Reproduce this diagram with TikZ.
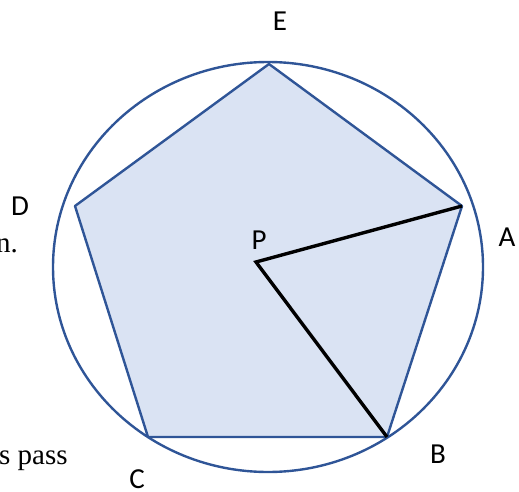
\documentclass[tikz,border=0pt]{standalone}
\usepackage{fontspec}
\setmainfont{Liberation Serif}
\newfontfamily\lblfont{Carlito}
\definecolor{edgeblue}{HTML}{2F5597}
\definecolor{fillblue}{HTML}{DAE3F3}
\begin{document}
\begin{tikzpicture}[x=1pt,y=-1pt,
  lbl/.style={font=\lblfont\fontsize{29}{34}\selectfont, inner sep=0pt},
  stray/.style={font=\fontsize{29}{34}\selectfont, inner sep=0pt},
  radius line/.style={line width=3.4pt, black}]
\useasboundingbox (0,0) rectangle (519,492);
\coordinate (O) at (268,267);
\coordinate (E) at (269,64);
\coordinate (A) at (462,206);
\coordinate (B) at (387,437);
\coordinate (C) at (148,437);
\coordinate (D) at (75,206);
\coordinate (P) at (256,262);
\draw[edgeblue, line width=2.4pt] (O) ellipse [x radius=215, y radius=205];
\draw[edgeblue, line width=2.4pt, fill=fillblue, line join=round] (E) -- (A) -- (B) -- (C) -- (D) -- cycle;
\draw[radius line, line join=miter] (A) -- (P) -- (B);
\node[lbl] (lE) at (280,21) {E};
\node[lbl] (lD) at (20,206) {D};
\node[lbl] (lA) at (507,237) {A};
\node[lbl] (lP) at (259,240) {P};
\node[lbl] (lB) at (438,454) {B};
\node[lbl] (lC) at (137,479) {C};
\node[stray, anchor=base east] (t1) at (18,252) {n.};
\node[stray, anchor=base west] (t2) at (-1,464) {s pass};
\end{tikzpicture}
\end{document}
